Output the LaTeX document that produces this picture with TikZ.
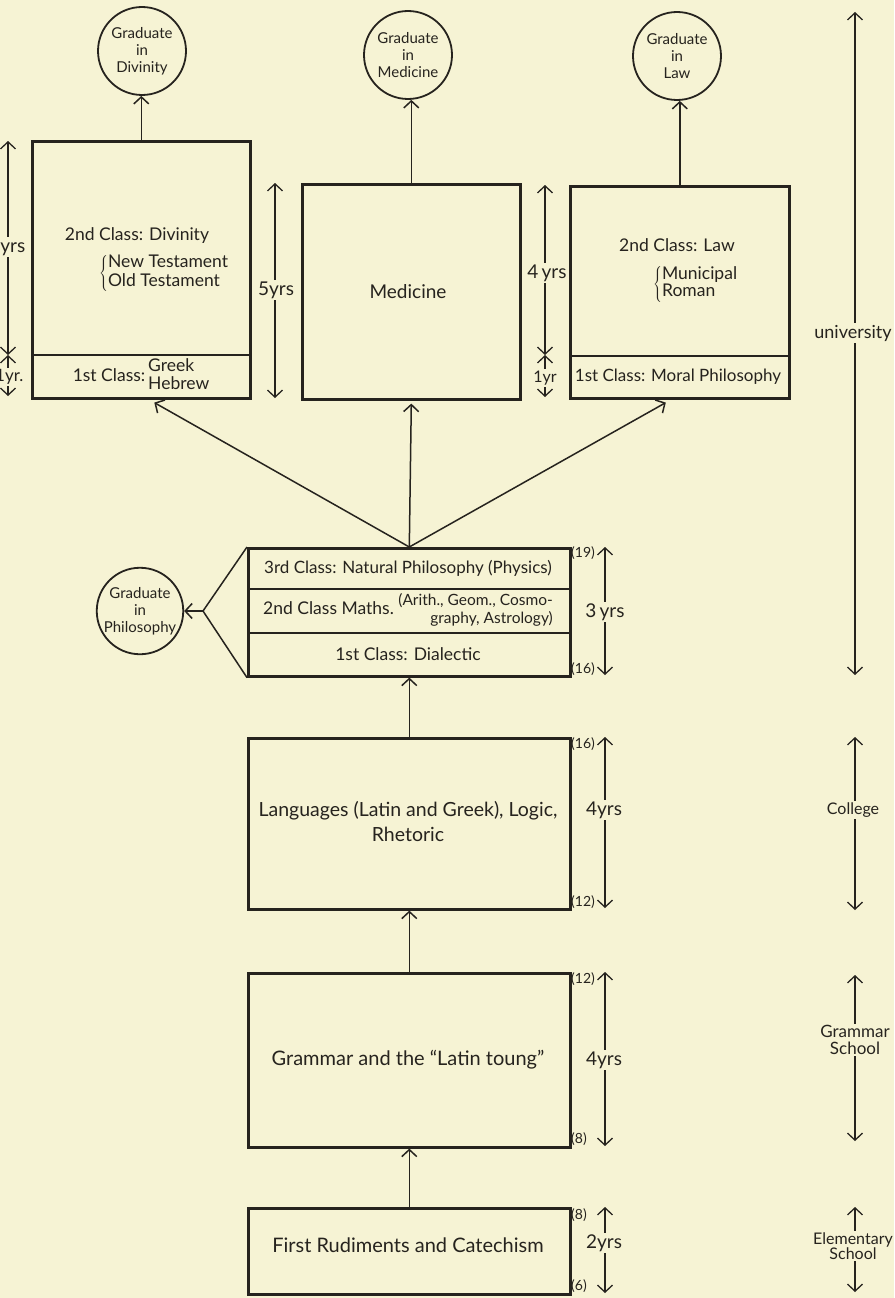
\documentclass[tikz,border=0pt]{standalone}
\usepackage{fontspec}
\setmainfont{Lato}
\usetikzlibrary{arrows.meta,calc}
\definecolor{paper}{RGB}{246,243,212}
\definecolor{ink}{RGB}{38,35,30}
\newcommand{\fsz}[2]{\fontsize{#1}{#2}\selectfont}
\begin{document}
\begin{tikzpicture}[x=1pt,y=-1pt,
  every node/.style={text=ink},
  stage/.style={draw=ink,line width=2.6pt,inner sep=0pt,anchor=north west},
  divider/.style={draw=ink,line width=2.2pt},
  grad/.style={circle,draw=ink,line width=1.8pt,minimum size=88pt,inner sep=0pt,align=center,font=\fsz{15}{17}},
  conn/.style={draw=ink,line width=1.5pt,-{Straight Barb[length=7pt,width=15pt,line width=1.5pt]}},
  plain/.style={draw=ink,line width=1.5pt},
  dimline/.style={draw=ink,line width=1.3pt,{Straight Barb[length=7pt,width=15pt,line width=1.3pt]}-{Straight Barb[length=7pt,width=15pt,line width=1.3pt]}},
  lbl/.style={align=center,inner sep=1pt,font=\fsz{17.5}{21}},
  dimtxt/.style={fill=paper,inner sep=1.5pt,font=\fsz{19}{22}},
  age/.style={inner sep=0pt,anchor=west,font=\fsz{14}{15}},
  side/.style={fill=paper,inner sep=1.5pt,align=center,font=\fsz{16}{17}}
]
\useasboundingbox (0,0) rectangle (894,1298);
\fill[paper] (0,0) rectangle (894,1298);

% boxes
\node[stage,minimum width=218pt,minimum height=257pt] (div) at (31,140) {};
\node[stage,minimum width=218pt,minimum height=215pt] (med) at (301,183) {};
\node[stage,minimum width=219pt,minimum height=212pt] (law) at (569,185) {};
\node[stage,minimum width=322pt,minimum height=128pt] (phil) at (247,547) {};
\node[stage,minimum width=322pt,minimum height=171pt] (lang) at (247,737) {};
\node[stage,minimum width=322pt,minimum height=174pt] (gram) at (247,972) {};
\node[stage,minimum width=322pt,minimum height=86pt] (rud) at (247,1207) {};

\draw[divider] (31,355) -- (249,355);
\draw[divider] (569,356) -- (788,356);
\draw[divider] (247,589) -- (569,589);
\draw[divider] (247,633) -- (569,633);

% graduate circles
\node[grad] (divC) at (142,51) {Graduate\\in\\Divinity};
\node[grad] (medC) at (408,55) {Graduate\\in\\Medicine};
\node[grad] (lawC) at (677,56) {Graduate\\in\\Law};
\node[grad,minimum size=82pt] (phiC) at (140,611) {Graduate\\in\\Philosophy};

% connectors
\draw[conn] (div.north) -- (div.north |- divC.south);
\draw[conn] (med.north) -- (med.north |- medC.south);
\draw[conn] (law.north) -- (law.north |- lawC.south);
\draw[conn] (phil.north) -- ([xshift=13pt,yshift=-3pt]div.south);
\draw[conn] (phil.north) -- ([yshift=-3pt]med.south);
\draw[conn] (phil.north) -- ([xshift=-14pt,yshift=-3pt]law.south);
\coordinate (vx) at (203,611);
\draw[plain] (phil.north west) -- (vx) -- (phil.south west);
\draw[conn] (vx) -- (phiC.east);
\draw[conn] (lang.north) -- (phil.south);
\draw[conn] (gram.north) -- (lang.south);
\draw[conn] (rud.north) -- (gram.south);

% texts in boxes
\node[lbl] (tdiv) at (137,236) {2nd Class: Divinity};
\node[lbl,font=\fsz{17.5}{19},anchor=west,inner sep=0pt] (ttest) at (99,273) {\(\left\{\begin{tabular}{@{}l@{}}New Testament\\Old Testament\end{tabular}\right.\)};
\node[lbl,font=\fsz{17.5}{17}] (tgreek) at (141,377) {1st Class:\,\begin{tabular}{@{}l@{}}Greek\\Hebrew\end{tabular}};
\node[lbl,font=\fsz{19}{22}] (tmed) at (408,292) {Medicine};
\node[lbl] (tlaw) at (677,245) {2nd Class: Law};
\node[lbl,font=\fsz{17.5}{17},anchor=west,inner sep=0pt] (tmun) at (653,284) {\(\left\{\begin{tabular}{@{}l@{}}Municipal\\Roman\end{tabular}\right.\)};
\node[lbl,font=\fsz{17}{20}] (tmoral) at (678,377) {1st Class: Moral Philosophy};
\node[lbl,font=\fsz{17}{20}] (tnat) at (408,568) {3rd Class: Natural Philosophy (Physics)};
\node[lbl,font=\fsz{17.5}{20}] (tmath) at (408,611) {2nd Class Maths.\ {\fsz{15.5}{17}\begin{tabular}{@{}r@{}}(Arith., Geom., Cosmo-\\graphy, Astrology)\end{tabular}}};
\node[lbl] (tdial) at (408,654) {1st Class: Dialectic};
\node[lbl,font=\fsz{19.5}{25}] (tlang) at (408,822) {Languages (Latin and Greek), Logic,\\Rhetoric};
\node[lbl,font=\fsz{20}{24}] (tgram) at (408,1060) {Grammar and the “Latin toung”};
\node[lbl,font=\fsz{20}{24}] (trud) at (408,1245) {First Rudiments and Catechism};

% year dimensions (top)
\coordinate (a1) at (8,141); \coordinate (a2) at (8,355); \coordinate (a3) at (8,396);
\draw[dimline] (a1) -- (a2); \draw[dimline] (a2) -- (a3);
\node[dimtxt,anchor=east] at (27,247) {4yrs};
\node[dimtxt,anchor=east,font=\fsz{17}{18}] at (25,377) {1yr.};
\coordinate (b1) at (275,183); \coordinate (b2) at (275,398);
\draw[dimline] (b1) -- (b2);
\node[dimtxt] at (276,290) {5yrs};
\coordinate (c1) at (545,185); \coordinate (c2) at (545,355); \coordinate (c3) at (545,397);
\draw[dimline] (c1) -- (c2); \draw[dimline] (c2) -- (c3);
\node[dimtxt] at (547,273) {4\,yrs};
\node[dimtxt,font=\fsz{16}{18}] at (545,378) {1yr};

% year dimensions (lower)
\coordinate (d1) at (605,547); \coordinate (d2) at (605,675);
\draw[dimline] (d1) -- (d2); \node[dimtxt] at (605,612) {3\,yrs};
\coordinate (e1) at (605,737); \coordinate (e2) at (605,908);
\draw[dimline] (e1) -- (e2); \node[dimtxt] at (604,810) {4yrs};
\coordinate (f1) at (605,972); \coordinate (f2) at (605,1146);
\draw[dimline] (f1) -- (f2); \node[dimtxt] at (604,1060) {4yrs};
\coordinate (g1) at (605,1207); \coordinate (g2) at (605,1293);
\draw[dimline] (g1) -- (g2); \node[dimtxt] at (604,1243) {2yrs};

% ages
\node[age] at (571,553) {(19)};
\node[age] at (571,669) {(16)};
\node[age] at (571,744) {(16)};
\node[age] at (571,902) {(12)};
\node[age] at (571,979) {(12)};
\node[age] at (571,1139) {(8)};
\node[age] at (571,1215) {(8)};
\node[age] at (571,1286) {(6)};

% stages at right
\coordinate (u1) at (855,12); \coordinate (u2) at (855,675);
\draw[dimline] (u1) -- (u2);
\node[side,font=\fsz{18}{20}] at (853,333) {university};
\coordinate (k1) at (855,737); \coordinate (k2) at (855,910);
\draw[dimline] (k1) -- (k2);
\node[side] at (853,810) {College};
\coordinate (s1) at (855,975); \coordinate (s2) at (855,1141);
\draw[dimline] (s1) -- (s2);
\node[side,font=\fsz{17}{17}] at (855,1040) {Grammar\\School};
\coordinate (m1) at (855,1207); \coordinate (m2) at (855,1292);
\draw[dimline] (m1) -- (m2);
\node[side,font=\fsz{16}{15}] at (853,1246) {Elementary\\School};
\end{tikzpicture}
\end{document}
